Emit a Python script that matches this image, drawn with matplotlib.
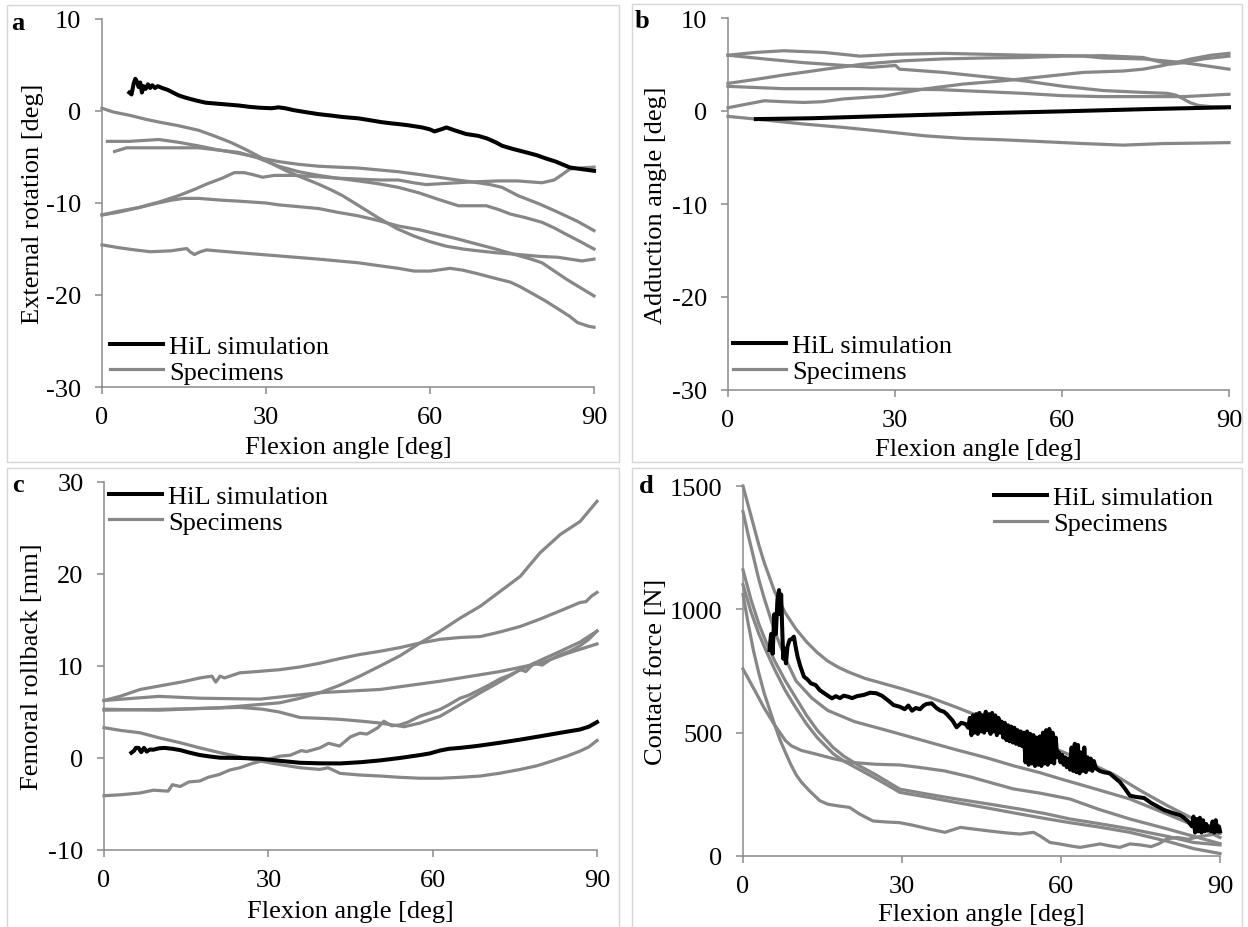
import matplotlib
matplotlib.use('Agg')
import matplotlib.pyplot as plt
from matplotlib.lines import Line2D
from matplotlib.patches import Rectangle

plt.rcParams['font.family'] = ['Liberation Serif', 'DejaVu Serif']
plt.rcParams['axes.unicode_minus'] = False

# ---------------- data ----------------
x_ticks = [0, 30, 60, 90]
labels = ['HiL simulation', 'Specimens']

# panel a : external rotation
a_hil_x = [5.0, 5.4, 5.8, 6.1, 6.4, 6.7, 7.0, 7.3, 7.6, 8.0, 8.4, 8.8, 9.2, 9.7, 10.2, 11, 12, 13, 14, 15, 16.2, 17.5, 19, 21, 23, 25, 27, 29, 31, 32.3, 33.5, 35, 37, 39.6, 42, 44, 46.9, 49, 51, 53, 54.2, 56, 58.6, 60, 60.8, 62, 63, 64.5, 66.6, 68.8, 70.5, 72, 73.2, 75, 77.6, 79.5, 81.2, 83, 85.6, 87.5, 90]
a_hil_y = [2.0, 1.8, 3.0, 3.5, 3.2, 2.6, 3.1, 2.0, 2.7, 2.4, 2.9, 2.5, 2.8, 2.5, 2.7, 2.5, 2.3, 2.0, 1.7, 1.5, 1.3, 1.1, 0.9, 0.8, 0.7, 0.6, 0.45, 0.35, 0.3, 0.4, 0.3, 0.1, -0.1, -0.34, -0.5, -0.65, -0.8, -1.0, -1.2, -1.35, -1.42, -1.55, -1.79, -2.0, -2.22, -2.0, -1.79, -2.1, -2.5, -2.7, -3.0, -3.4, -3.78, -4.1, -4.5, -4.8, -5.16, -5.5, -6.14, -6.3, -6.5]
a_s1_x = [0, 2, 5.3, 8, 10.4, 14, 17.7, 20.5, 23.5, 26, 28.6, 31, 33.7, 36.5, 39.6, 42, 44, 47, 50.5, 54, 57.1, 60, 63, 66, 68.8, 72, 76.1, 80, 83.4, 87.8, 90]
a_s1_y = [0.3, -0.1, -0.5, -0.9, -1.2, -1.6, -2.1, -2.7, -3.4, -4.1, -4.9, -5.7, -6.5, -7.2, -7.95, -8.6, -9.2, -10.3, -11.6, -12.8, -13.6, -14.2, -14.7, -15.0, -15.2, -15.4, -15.6, -15.8, -15.9, -16.3, -16.1]
a_s2_x = [1, 5, 10.4, 14, 17.7, 21, 25, 29, 32.3, 36, 39.6, 43, 46.9, 50.5, 54.2, 58, 61.5, 65, 68.8, 71, 73.2, 76.1, 80, 83.4, 87, 90]
a_s2_y = [-3.3, -3.3, -3.1, -3.4, -3.8, -4.2, -4.6, -5.1, -5.5, -5.8, -6.0, -6.1, -6.2, -6.4, -6.6, -6.9, -7.2, -7.5, -7.8, -8.0, -8.3, -9.2, -10.1, -11.0, -12.0, -13.0]
a_s3_x = [2.3, 4.5, 10.4, 17.7, 25, 28.5, 32.3, 36, 39.6, 43, 46.9, 50.5, 54.2, 58, 61.5, 65.2, 68, 70.3, 72.5, 74.7, 77.5, 80.5, 82.7, 84.9, 87.5, 90]
a_s3_y = [-4.4, -4.0, -4.0, -4.0, -4.5, -5.1, -6.0, -6.6, -7.0, -7.3, -7.6, -7.9, -8.3, -8.9, -9.6, -10.3, -10.3, -10.3, -10.7, -11.2, -11.6, -12.1, -12.7, -13.4, -14.2, -15.0]
a_s4_x = [0, 3, 6.7, 10.4, 14, 17, 19.1, 22, 24.2, 26, 27.5, 29.4, 31.5, 35, 39.6, 43, 46.9, 51, 54.2, 57, 59.3, 62, 65, 68, 72.5, 76, 80.5, 82.7, 84.2, 85.6, 87.5, 90]
a_s4_y = [-11.3, -11.0, -10.5, -9.9, -9.2, -8.5, -7.95, -7.3, -6.7, -6.7, -6.9, -7.2, -7.0, -7.0, -7.15, -7.3, -7.4, -7.5, -7.5, -7.8, -8.0, -7.9, -7.8, -7.7, -7.6, -7.6, -7.8, -7.5, -6.9, -6.3, -6.2, -6.1]
a_s5_x = [0, 3, 6.7, 9.5, 12.6, 15, 17.7, 22, 25, 30, 32.3, 36, 39.6, 43, 46.9, 50.5, 54.2, 58, 61.5, 65, 68.8, 72, 76.1, 78.5, 80.5, 82.5, 85, 87.5, 90]
a_s5_y = [-11.3, -10.9, -10.5, -10.1, -9.7, -9.5, -9.5, -9.7, -9.8, -10.0, -10.2, -10.4, -10.6, -11.0, -11.4, -11.9, -12.5, -12.9, -13.4, -13.9, -14.5, -15.0, -15.7, -16.1, -16.5, -17.3, -18.3, -19.2, -20.1]
a_s6_x = [0, 3, 6, 8.9, 12.6, 15.5, 16.1, 16.9, 18, 19.1, 25, 32.3, 39.6, 46.9, 50.5, 54.2, 57.1, 60, 63.7, 66, 68.8, 72, 74.7, 76.5, 78.3, 81, 83.4, 85.5, 87, 89, 90]
a_s6_y = [-14.55, -14.85, -15.1, -15.3, -15.2, -14.95, -15.3, -15.6, -15.3, -15.1, -15.4, -15.75, -16.1, -16.5, -16.8, -17.1, -17.4, -17.4, -17.1, -17.3, -17.7, -18.2, -18.6, -19.1, -19.7, -20.6, -21.5, -22.3, -23.0, -23.4, -23.5]

# panel b : adduction angle
b_hil_x = [5, 15, 30, 45, 60, 75, 90]
b_hil_y = [-0.87, -0.78, -0.51, -0.25, -0.04, 0.2, 0.4]
b_s1_x = [0, 5, 10, 17.2, 20.5, 23.7, 27, 30.1, 38.7, 46, 53, 60.3, 64, 67.4, 74.6, 78.2, 81.8, 85.4, 90]
b_s1_y = [6.0, 6.3, 6.48, 6.3, 6.1, 5.9, 6.0, 6.1, 6.2, 6.1, 6.0, 5.95, 5.9, 5.7, 5.6, 5.4, 5.2, 4.9, 4.5]
b_s2_x = [0, 6.5, 13.6, 20.8, 25.8, 30.1, 30.8, 38.7, 45.9, 53.1, 60.3, 67.4, 71, 74.6, 78.9, 80.5, 81.8, 83, 84.5, 87, 90]
b_s2_y = [6.0, 5.6, 5.2, 4.9, 4.7, 4.9, 4.5, 4.15, 3.7, 3.25, 2.65, 2.2, 2.1, 2.0, 1.9, 1.7, 1.3, 0.9, 0.6, 0.45, 0.4]
b_s3_x = [0, 5, 10, 14, 17.5, 24.4, 31.6, 38.7, 45.9, 53, 60.3, 67.4, 74.6, 77.5, 79.6, 81.8, 85.4, 90]
b_s3_y = [2.97, 3.4, 3.87, 4.2, 4.5, 5.05, 5.4, 5.6, 5.7, 5.75, 5.9, 5.95, 5.75, 5.3, 5.05, 5.2, 5.6, 5.9]
b_s4_x = [0, 10, 24, 38, 53, 60, 67, 75, 82, 90]
b_s4_y = [2.65, 2.4, 2.4, 2.3, 1.9, 1.65, 1.55, 1.55, 1.55, 1.8]
b_s5_x = [0, 3, 6.5, 10, 13.6, 17, 20.8, 28, 35.2, 42.3, 49.5, 56.7, 63.8, 71, 74.6, 78.2, 83.2, 86.8, 90]
b_s5_y = [0.35, 0.7, 1.1, 1.0, 0.92, 1.0, 1.3, 1.6, 2.36, 2.9, 3.25, 3.7, 4.15, 4.3, 4.5, 4.9, 5.6, 6.0, 6.2]
b_s6_x = [0, 5, 13.6, 20.8, 28, 35.2, 42.3, 49.5, 56.7, 63.8, 71, 78.2, 85, 90]
b_s6_y = [-0.58, -0.87, -1.4, -1.77, -2.2, -2.66, -2.95, -3.1, -3.3, -3.5, -3.67, -3.5, -3.45, -3.4]

# panel c : femoral rollback
c_hil_x = [5, 5.5, 5.8, 6.3, 6.8, 7.3, 7.8, 8.4, 9, 10, 11, 12.5, 13.9, 15.5, 17.5, 19.5, 21.2, 25, 28.5, 32, 35.8, 39.5, 43.1, 47, 50.4, 54, 57.7, 59.5, 61.4, 63, 65, 68, 72.3, 76, 80, 83.3, 86.9, 88.5, 90]
c_hil_y = [0.57, 0.8, 1.1, 1.1, 0.64, 1.1, 0.7, 0.93, 0.9, 1.05, 1.1, 1.0, 0.86, 0.6, 0.32, 0.15, 0.03, 0.0, -0.08, -0.3, -0.52, -0.58, -0.59, -0.45, -0.26, 0.0, 0.32, 0.5, 0.82, 1.0, 1.1, 1.3, 1.66, 2.0, 2.4, 2.74, 3.1, 3.4, 3.9]
c_s1_x = [0, 2.9, 6.6, 11.7, 14.5, 17.5, 19.7, 20.4, 21.2, 22, 24.8, 28, 32.1, 35.8, 39.4, 43, 46.7, 50.4, 54, 57.7, 61.4, 65, 68.7, 72.3, 76, 79.6, 83.3, 86.9, 88, 89, 90]
c_s1_y = [6.25, 6.7, 7.45, 8.0, 8.3, 8.7, 8.9, 8.25, 8.9, 8.7, 9.26, 9.4, 9.6, 9.9, 10.3, 10.8, 11.25, 11.6, 12.0, 12.5, 12.9, 13.1, 13.2, 13.7, 14.3, 15.1, 16.0, 16.9, 17.0, 17.6, 18.0]
c_s2_x = [0, 10, 17.5, 28.5, 39.4, 50.4, 61.4, 72.3, 79.6, 84.7, 90]
c_s2_y = [6.25, 6.7, 6.5, 6.4, 7.1, 7.45, 8.35, 9.4, 10.3, 11.4, 12.4]
c_s3_x = [0, 10, 21.2, 32.1, 35.8, 39.4, 43, 46.7, 50.4, 54, 57.7, 61.4, 65, 68.7, 72.3, 76, 79.6, 83.3, 86.9, 90]
c_s3_y = [5.3, 5.2, 5.46, 6.0, 6.5, 7.1, 7.9, 8.9, 10.0, 11.1, 12.5, 13.8, 15.2, 16.5, 18.1, 19.75, 22.3, 24.3, 25.7, 27.9]
c_s4_x = [0, 10, 24.8, 29, 32, 35.8, 40, 43.1, 47, 50.4, 54.8, 57.7, 61.4, 65, 68.7, 72.3, 76, 79.6, 83.3, 86.9, 90]
c_s4_y = [5.2, 5.28, 5.5, 5.3, 5.0, 4.4, 4.3, 4.2, 4.0, 3.8, 3.4, 3.8, 4.55, 5.8, 7.1, 8.3, 9.6, 10.6, 11.6, 12.6, 13.8]
c_s5_x = [0, 3, 6.6, 9, 11.7, 12.5, 13.9, 15.5, 17.5, 19, 21, 23, 24.8, 27, 29, 32.1, 34, 36, 37, 39.4, 41, 43, 45, 46.7, 48, 50, 51.1, 52.5, 54, 55.5, 57.7, 59.5, 61.4, 63, 65, 66.5, 68.7, 70.5, 72.3, 74, 76, 77, 78.5, 80, 81.5, 83.3, 85, 86.9, 88.5, 90]
c_s5_y = [-4.1, -4.0, -3.8, -3.5, -3.6, -2.9, -3.1, -2.6, -2.5, -2.1, -1.8, -1.3, -1.06, -0.6, -0.3, 0.2, 0.3, 0.8, 0.7, 1.1, 1.6, 1.3, 2.3, 2.7, 2.6, 3.3, 4.0, 3.5, 3.6, 3.9, 4.55, 4.9, 5.3, 5.8, 6.5, 6.8, 7.45, 8.0, 8.6, 9.0, 9.6, 9.4, 10.3, 10.1, 10.7, 11.25, 11.6, 12.2, 12.9, 13.8]
c_s6_x = [0, 3, 6.6, 10, 13.9, 17.5, 21.2, 25, 28.5, 32, 35.8, 39.4, 40.9, 43.1, 46.7, 50.4, 54, 57.7, 61.4, 65, 68.7, 72.3, 76, 79, 81.8, 84.5, 86.9, 88.5, 90]
c_s6_y = [3.3, 3.0, 2.74, 2.2, 1.66, 1.1, 0.57, 0.1, -0.33, -0.7, -1.06, -1.24, -1.06, -1.67, -1.85, -1.96, -2.1, -2.2, -2.2, -2.1, -1.96, -1.65, -1.24, -0.85, -0.33, 0.2, 0.75, 1.2, 1.9]

# panel d : contact force
d_hil_x = [5.0, 5.3, 5.6, 5.9, 6.2, 6.5, 6.8, 7.0, 7.2, 7.4, 7.6, 7.8, 8.1, 8.4, 8.8, 9.2, 9.6, 10.0, 10.3, 10.8, 11.5, 12.2, 12.8, 13.7, 14.5, 15.3, 16.0, 16.8, 17.5, 18.3, 19.0, 19.8, 20.6, 21.5, 22.8, 24.0, 25.1, 26.2, 27.3, 28.4, 29.6, 30.5, 31.2, 31.9, 32.6, 33.4, 34.1, 34.6, 35.6, 36.5, 37.2, 37.9, 38.4, 39.5, 40.3, 41.2, 42.0,
           42.5, 42.8, 43.1, 43.4, 43.7, 44.0, 44.3, 44.6, 44.9, 45.2, 45.5, 45.8, 46.1, 46.4, 46.7, 47.0, 47.3, 47.6, 47.9, 48.2, 48.5,
           48.8, 49.1, 49.4, 49.7, 50.0, 50.3, 50.6, 50.9, 51.2, 51.5, 51.8, 52.1, 52.4, 52.7,
           53.0, 53.3, 53.6, 53.9, 54.2, 54.5, 54.8, 55.1, 55.4, 55.7, 56.0, 56.3, 56.6, 56.9, 57.2, 57.5, 57.8, 58.1, 58.4, 58.7, 59.0,
           59.3, 59.6, 59.9, 60.2, 60.5, 60.8, 61.1, 61.4, 61.7,
           62.0, 62.3, 62.6, 62.9, 63.2, 63.5, 63.8, 64.1, 64.4, 64.7, 65.0, 65.3, 65.6, 65.9, 66.2, 66.6,
           67.3, 68.0, 69.2, 70.0, 71.1, 72.0, 73.0, 74.0, 75.7, 77.0, 78.3, 79.5, 81.0, 82.5, 83.2, 84.0, 84.7,
           85.0, 85.3, 85.6, 85.9, 86.2, 86.5, 86.8, 87.1, 87.4, 87.7, 88.0, 88.3, 88.6, 88.9, 89.2, 89.5, 89.8, 90.0]
d_hil_y = [835, 900, 820, 980, 900, 1040, 1078, 980, 1060, 920, 800, 840, 781, 850, 876, 880, 889, 840, 808, 770, 727, 715, 700, 693, 672, 660, 650, 639, 648, 640, 650, 646, 640, 648, 653, 662, 660, 650, 632, 612, 605, 595, 610, 589, 600, 595, 610, 616, 619, 600, 590, 585, 576, 550, 522, 540, 535,
           520, 560, 490, 570, 500, 575, 495, 580, 505, 570, 500, 585, 510, 575, 495, 580, 505, 570, 490, 560, 500,
           545, 480, 540, 470, 530, 465, 525, 460, 520, 455, 510, 450, 505, 445,
           500, 380, 505, 370, 495, 375, 490, 365, 480, 370, 485, 365, 500, 375, 510, 370, 515, 380, 500, 375, 480,
           400, 420, 380, 410, 370, 400, 360, 395, 350,
           440, 345, 455, 340, 450, 335, 420, 345, 440, 340, 400, 350, 395, 345, 385, 355,
           345, 340, 335, 320, 300, 275, 245, 240, 235, 215, 200, 186, 175, 165, 155, 140, 120,
           160, 95, 150, 100, 155, 95, 145, 100, 130, 105, 120, 100, 140, 95, 145, 100, 120, 100]
d_s1_x = [0, 1, 2, 3, 4, 6, 8, 10, 12, 14, 16, 18, 20, 23, 26, 30, 35, 40, 45, 50, 55, 60, 65, 70, 75, 80, 85, 90]
d_s1_y = [1500, 1420, 1340, 1260, 1190, 1070, 985, 920, 868, 825, 790, 765, 745, 720, 702, 678, 645, 605, 563, 515, 470, 425, 380, 330, 265, 205, 150, 95]
d_s2_x = [0, 1, 2, 3, 4, 6, 8, 10, 13, 16, 21, 27, 33, 40, 46, 51, 56, 60, 66, 73, 80, 85, 90]
d_s2_y = [1396, 1300, 1210, 1120, 1045, 910, 800, 710, 640, 590, 545, 510, 474, 432, 398, 366, 338, 312, 275, 231, 170, 125, 75]
d_s3_x = [0, 2, 4, 6, 8, 9.1, 11, 13.8, 17, 20.1, 25, 29.6, 33, 38, 43, 51, 56, 61.7, 67, 73, 80, 85, 90]
d_s3_y = [758, 680, 600, 530, 468, 447, 428, 413, 395, 380, 372, 369, 360, 345, 320, 272, 255, 231, 190, 150, 110, 80, 50]
d_s4_x = [0, 1.5, 3, 4.5, 6, 8, 10, 12, 14, 17, 19, 22, 25, 29.6, 35, 40, 46, 52.3, 57, 61.7, 67, 73, 80, 85, 90]
d_s4_y = [1160, 1040, 940, 860, 790, 710, 640, 570, 510, 440, 405, 365, 330, 271, 250, 232, 212, 190, 172, 150, 132, 110, 80, 55, 45]
d_s5_x = [0, 1.5, 3, 4.5, 6, 8, 10, 12, 14, 17, 19, 22, 25, 29.6, 35, 40, 46, 52.3, 57, 61.7, 67, 73, 80, 85, 90]
d_s5_y = [1100, 990, 900, 825, 755, 670, 600, 535, 480, 415, 385, 350, 315, 258, 238, 218, 195, 170, 152, 135, 118, 96, 60, 30, 10]
d_s6_x = [0, 1, 2, 3, 4, 5, 6, 7, 8, 9, 10, 11, 12.5, 14.5, 16, 18, 20.1, 22, 24.5, 27, 29.6, 32, 35, 38.1, 41, 44, 47, 50, 52.3, 54.8, 56, 57.9, 60, 62, 63.6, 65.5, 67.4, 69, 71.1, 73, 75, 77, 78.5, 80, 82, 84, 86, 88, 90]
d_s6_y = [1060, 940, 830, 740, 660, 595, 530, 470, 420, 372, 330, 300, 265, 224, 210, 203, 197, 170, 142, 138, 135, 125, 110, 96, 116, 108, 100, 93, 89, 96, 82, 55, 48, 40, 35, 42, 49, 42, 35, 49, 45, 38, 50, 70, 75, 68, 78, 85, 92]

panels = [
    dict(letter='a', ylabel='External rotation [deg]', ylim=(-30, 10), yticks=[-30, -20, -10, 0, 10],
         hil=(a_hil_x, a_hil_y),
         spec=[(a_s1_x, a_s1_y), (a_s2_x, a_s2_y), (a_s3_x, a_s3_y), (a_s4_x, a_s4_y), (a_s5_x, a_s5_y), (a_s6_x, a_s6_y)]),
    dict(letter='b', ylabel='Adduction angle [deg]', ylim=(-30, 10), yticks=[-30, -20, -10, 0, 10],
         hil=(b_hil_x, b_hil_y),
         spec=[(b_s1_x, b_s1_y), (b_s2_x, b_s2_y), (b_s3_x, b_s3_y), (b_s4_x, b_s4_y), (b_s5_x, b_s5_y), (b_s6_x, b_s6_y)]),
    dict(letter='c', ylabel='Femoral rollback [mm]', ylim=(-10, 30), yticks=[-10, 0, 10, 20, 30],
         hil=(c_hil_x, c_hil_y),
         spec=[(c_s1_x, c_s1_y), (c_s2_x, c_s2_y), (c_s3_x, c_s3_y), (c_s4_x, c_s4_y), (c_s5_x, c_s5_y), (c_s6_x, c_s6_y)]),
    dict(letter='d', ylabel='Contact force [N]', ylim=(0, 1500), yticks=[0, 500, 1000, 1500],
         hil=(d_hil_x, d_hil_y),
         spec=[(d_s1_x, d_s1_y), (d_s2_x, d_s2_y), (d_s3_x, d_s3_y), (d_s4_x, d_s4_y), (d_s5_x, d_s5_y), (d_s6_x, d_s6_y)]),
]

# ---------------- layout (pixels) ----------------
W, H = 1248, 928
axes_px = [(102, 594, 20, 388), (728, 1229, 19, 391), (104, 597, 483, 851), (743, 1220, 487, 857)]
box_px = [(7, 619, 6, 463), (632, 1242, 5, 463), (7, 619, 469, 940), (632, 1242, 469, 940)]
letter_px = [(18, 24), (642, 21), (18, 485), (646, 487)]
ylabel_x = [-0.118, -0.122, -0.124, -0.159]
xlabel_y = [-0.133, -0.128, -0.136, -0.126]
legend_px = [(110, 360), (733, 359.5), (109, 510), (994, 511.5)]

GRAY = '#878787'
AXC = '#8a8a8a'
FS = 19

fig = plt.figure(figsize=(W / 100, H / 100), dpi=100)

for (l, r, t, b) in box_px:
    fig.add_artist(Rectangle((l / W, 1 - b / H), (r - l) / W, (b - t) / H, transform=fig.transFigure,
                             fill=False, ec='#d6d6d6', lw=1.0))

for i, p in enumerate(panels):
    l, r, t, b = axes_px[i]
    ax = fig.add_axes([l / W, 1 - b / H, (r - l) / W, (b - t) / H])
    ax.patch.set_alpha(0)
    for sx, sy in p['spec']:
        ax.plot(sx, sy, color=GRAY, lw=2.3, clip_on=False, solid_joinstyle='round')
    hx, hy = p['hil']
    ax.plot(hx, hy, color='black', lw=2.9, clip_on=False, solid_joinstyle='round', zorder=3)
    ax.set_xlim(0, 90)
    ax.set_ylim(*p['ylim'])
    ax.set_xticks(x_ticks)
    ax.set_xticklabels([str(v) for v in x_ticks])
    ax.set_yticks(p['yticks'])
    ax.set_yticklabels([str(v) for v in p['yticks']])
    for s in ['top', 'right']:
        ax.spines[s].set_visible(False)
    for s in ['left', 'bottom']:
        ax.spines[s].set_color(AXC)
        ax.spines[s].set_linewidth(1.1)
    ax.tick_params(axis='both', direction='out', length=4.8, width=1.1, color=AXC, labelsize=FS)
    ax.tick_params(axis='y', pad=10)
    ax.tick_params(axis='x', pad=9)
    ax.set_xlabel('Flexion angle [deg]', fontsize=FS)
    ax.set_ylabel(p['ylabel'], fontsize=FS)
    ax.yaxis.set_label_coords(ylabel_x[i], 0.5)
    ax.xaxis.set_label_coords(0.5, xlabel_y[i])
    handles = [Line2D([], [], color='black', lw=2.9), Line2D([], [], color=GRAY, lw=2.3)]
    lx, ly = legend_px[i]
    ax.legend(handles, labels, loc='center left', bbox_to_anchor=(lx / W, 1 - ly / H),
              bbox_transform=fig.transFigure, frameon=False, fontsize=FS, borderpad=0,
              borderaxespad=0, handlelength=2.0, handletextpad=0.25, labelspacing=0.08)
    lx, ly = letter_px[i]
    fig.text(lx / W, 1 - ly / H, p['letter'], fontsize=FS, fontweight='bold', ha='center', va='center')

fig.savefig('out.png', dpi=100)
